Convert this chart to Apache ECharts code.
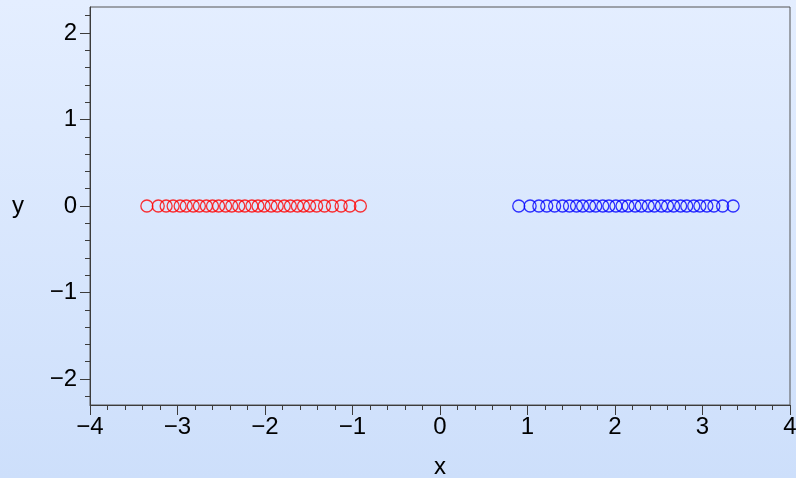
<!DOCTYPE html>
<html>
<head>
<meta charset="utf-8">
<script src="https://cdn.jsdelivr.net/npm/echarts@6/dist/echarts.min.js"></script>
<style>
html,body{margin:0;padding:0;}
body{width:796px;height:478px;background:linear-gradient(to bottom,#e4eeff 0%,#cddffb 100%);}
#c{width:796px;height:478px;}
</style>
</head>
<body>
<div id="c"></div>
<script>
var redX = [-3.35,-3.22,-3.13,-3.05,-2.97,-2.90,-2.82,-2.75,-2.67,-2.60,-2.53,-2.45,-2.38,-2.30,-2.23,-2.15,-2.08,-2.01,-1.93,-1.86,-1.78,-1.71,-1.63,-1.56,-1.49,-1.41,-1.32,-1.23,-1.13,-1.03,-0.91];
var redY = [0,0,0,0,0,0,0,0,0,0,0,0,0,0,0,0,0,0,0,0,0,0,0,0,0,0,0,0,0,0,0];
var blueX = [0.90,1.03,1.13,1.22,1.31,1.40,1.48,1.56,1.63,1.71,1.78,1.86,1.93,2.01,2.08,2.15,2.23,2.30,2.38,2.45,2.53,2.60,2.67,2.75,2.82,2.90,2.97,3.05,3.13,3.23,3.35];
var blueY = [0,0,0,0,0,0,0,0,0,0,0,0,0,0,0,0,0,0,0,0,0,0,0,0,0,0,0,0,0,0,0];
var yMajor = [-2,-1,0,1,2];
var yMinor = [-2.2,-2.0,-1.8,-1.6,-1.4,-1.2,-1.0,-0.8,-0.6,-0.4,-0.2,0,0.2,0.4,0.6,0.8,1.0,1.2,1.4,1.6,1.8,2.0,2.2];

function pairs(xs, ys){ return xs.map(function(x,i){return [x, ys[i]];}); }
function fmt(v){ var s = String(Math.round(v*100)/100); return s.replace('-', '\u2212'); }

var axisColor = '#3c3c3c';
var font = 'Liberation Sans, Arial, sans-serif';
var chart = echarts.init(document.getElementById('c'), null, {renderer:'canvas'});
chart.setOption({
  animation: false,
  backgroundColor: 'transparent',
  grid: {left: 90, right: 6, top: 7, bottom: 73, show: true, borderColor: '#555', borderWidth: 1, backgroundColor: 'transparent', containLabel: false, outerBoundsMode: 'none'},
  xAxis: {
    type: 'value', min: -4, max: 4, interval: 1,
    name: 'x', nameLocation: 'middle', nameGap: 50,
    nameTextStyle: {color: '#000', fontSize: 24, fontFamily: font},
    axisLine: {onZero: false, lineStyle: {color: axisColor, width: 1}},
    axisTick: {show: true, length: 10, lineStyle: {color: axisColor}},
    minorTick: {show: true, splitNumber: 5, length: 5, lineStyle: {color: axisColor}},
    axisLabel: {color: '#000', fontSize: 24, fontFamily: font, margin: 10, formatter: fmt},
    splitLine: {show: false}
  },
  yAxis: [{
    type: 'value', min: -2.3, max: 2.3,
    name: 'y', nameLocation: 'middle', nameGap: 66, nameRotate: 0,
    nameTextStyle: {color: '#000', fontSize: 24, fontFamily: font},
    axisLine: {show: true, onZero: false, lineStyle: {color: axisColor, width: 1}},
    axisTick: {show: true, length: 10, customValues: yMajor, lineStyle: {color: axisColor}},
    axisLabel: {color: '#000', fontSize: 24, fontFamily: font, margin: 13, customValues: yMajor, formatter: fmt},
    splitLine: {show: false}
  },{
    type: 'value', min: -2.3, max: 2.3, position: 'left', offset: 0,
    axisLine: {show: false, onZero: false},
    axisTick: {show: true, length: 5, customValues: yMinor, lineStyle: {color: axisColor}},
    axisLabel: {show: false},
    splitLine: {show: false}
  }],
  series: [{
    type: 'scatter', data: pairs(redX, redY), symbol: 'circle', symbolSize: 12,
    itemStyle: {color: 'transparent', borderColor: '#ff0000', borderWidth: 1.3}
  },{
    type: 'scatter', data: pairs(blueX, blueY), symbol: 'circle', symbolSize: 12,
    itemStyle: {color: 'transparent', borderColor: '#0000ff', borderWidth: 1.3}
  }]
});
</script>
</body>
</html>
